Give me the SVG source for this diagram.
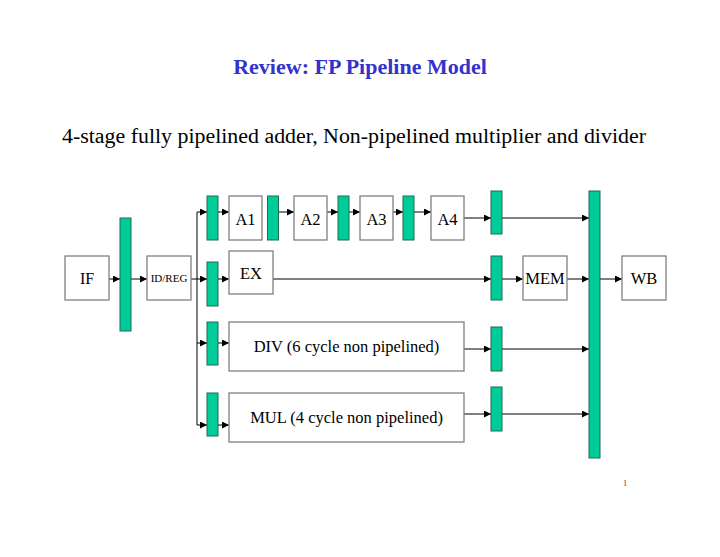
<svg xmlns="http://www.w3.org/2000/svg" width="720" height="557" viewBox="0 0 720 557">
<defs>
<marker id="ah" markerUnits="userSpaceOnUse" markerWidth="8" markerHeight="8" refX="7" refY="3.5" orient="auto">
<path d="M0,0 L7,3.5 L0,7 z" fill="#000"/>
</marker>
<style>
.bar{fill:#00CC99;stroke:#1f6b50;stroke-width:1}
.box{fill:#fff;stroke:#808080;stroke-width:1.3}
.t{font-family:"Liberation Serif","Times New Roman",serif;fill:#000;text-anchor:middle}
.c line,.c polyline{stroke:#000;stroke-width:1;fill:none}
.a{marker-end:url(#ah)}
</style>
</defs>
<rect width="720" height="557" fill="#fff"/>
<text x="360" y="74" class="t" style="font-size:22px;font-weight:bold;fill:#3333CC">Review: FP Pipeline Model</text>
<text x="62" y="143" style="font-family:'Liberation Serif','Times New Roman',serif;font-size:21.9px;fill:#000">4-stage fully pipelined adder, Non-pipelined multiplier and divider</text>
<text x="625" y="486" class="t" style="font-size:9px;fill:#555">1</text>

<g id="connectors" class="c">
<line class="a" x1="109" y1="279" x2="120" y2="279"/>
<line class="a" x1="131" y1="279" x2="147" y2="279"/>
<line class="a" x1="191" y1="279" x2="207" y2="279"/>
<polyline class="a" points="197,425 197,212 207,212"/>
<line class="a" x1="197" y1="343" x2="207" y2="343"/>
<line class="a" x1="197" y1="425" x2="207" y2="425"/>
<line class="a" x1="218" y1="212" x2="229" y2="212"/>
<line class="a" x1="279" y1="212" x2="294" y2="212"/>
<line class="a" x1="327" y1="212" x2="338" y2="212"/>
<line class="a" x1="349" y1="212" x2="360" y2="212"/>
<line class="a" x1="393" y1="212" x2="403" y2="212"/>
<line class="a" x1="414" y1="212" x2="431" y2="212"/>
<line class="a" x1="464" y1="218" x2="491" y2="218"/>
<line class="a" x1="502" y1="218" x2="589" y2="218"/>
<line class="a" x1="218" y1="279" x2="229" y2="279"/>
<line class="a" x1="273" y1="279" x2="491" y2="279"/>
<line class="a" x1="502" y1="279" x2="523" y2="279"/>
<line class="a" x1="566" y1="279" x2="589" y2="279"/>
<line class="a" x1="600" y1="279" x2="622" y2="279"/>
<line class="a" x1="218" y1="343" x2="229" y2="343"/>
<line class="a" x1="464" y1="349" x2="491" y2="349"/>
<line class="a" x1="502" y1="349" x2="589" y2="349"/>
<line class="a" x1="218" y1="425" x2="229" y2="425"/>
<line class="a" x1="464" y1="414" x2="491" y2="414"/>
<line class="a" x1="502" y1="414" x2="589" y2="414"/>
</g>

<g id="latch-ifid"><rect class="bar" x="120" y="218" width="11" height="113"/></g>
<g id="latch-a1in"><rect class="bar" x="207" y="196" width="11" height="44"/></g>
<g id="latch-a12"><rect class="bar" x="267.5" y="196" width="11" height="44"/></g>
<g id="latch-a23"><rect class="bar" x="338" y="196" width="11" height="44"/></g>
<g id="latch-a34"><rect class="bar" x="403" y="196" width="11" height="44"/></g>
<g id="latch-a4out"><rect class="bar" x="491" y="191" width="11" height="43"/></g>
<g id="latch-exin"><rect class="bar" x="207" y="262" width="11" height="44"/></g>
<g id="latch-exmem"><rect class="bar" x="491" y="256" width="11" height="44"/></g>
<g id="latch-divin"><rect class="bar" x="207" y="322" width="11" height="43"/></g>
<g id="latch-divout"><rect class="bar" x="491" y="327" width="11" height="44"/></g>
<g id="latch-mulin"><rect class="bar" x="207" y="393" width="11" height="43"/></g>
<g id="latch-mulout"><rect class="bar" x="491" y="387" width="11" height="44"/></g>
<g id="latch-memwb"><rect class="bar" x="589" y="191" width="11" height="267"/></g>

<g id="IF"><rect class="box" x="65" y="256" width="44" height="44"/><text class="t" x="87" y="284" style="font-size:16px">IF</text></g>
<g id="IDREG"><rect class="box" x="147" y="256" width="44" height="44"/><text class="t" x="169" y="282" style="font-size:11px">ID/REG</text></g>
<g id="A1"><rect class="box" x="229" y="196" width="33" height="44"/><text class="t" x="245.5" y="225" style="font-size:16.5px">A1</text></g>
<g id="A2"><rect class="box" x="294" y="196" width="33" height="44"/><text class="t" x="310.5" y="225" style="font-size:16.5px">A2</text></g>
<g id="A3"><rect class="box" x="360" y="196" width="33" height="44"/><text class="t" x="376.5" y="225" style="font-size:16.5px">A3</text></g>
<g id="A4"><rect class="box" x="431" y="196" width="33" height="44"/><text class="t" x="447.5" y="225" style="font-size:16.5px">A4</text></g>
<g id="EX"><rect class="box" x="229" y="251" width="44" height="43"/><text class="t" x="251" y="279" style="font-size:16.5px">EX</text></g>
<g id="MEM"><rect class="box" x="523" y="256" width="44" height="44"/><text class="t" x="545" y="284" style="font-size:16.5px">MEM</text></g>
<g id="WB"><rect class="box" x="622" y="256" width="44" height="44"/><text class="t" x="644" y="284" style="font-size:16.5px">WB</text></g>
<g id="DIV"><rect class="box" x="229" y="322" width="235" height="49"/><text class="t" x="346.5" y="352" style="font-size:16.5px">DIV (6 cycle non pipelined)</text></g>
<g id="MUL"><rect class="box" x="229" y="393" width="235" height="49"/><text class="t" x="346.5" y="423" style="font-size:16.5px">MUL (4 cycle non pipelined)</text></g>
</svg>
